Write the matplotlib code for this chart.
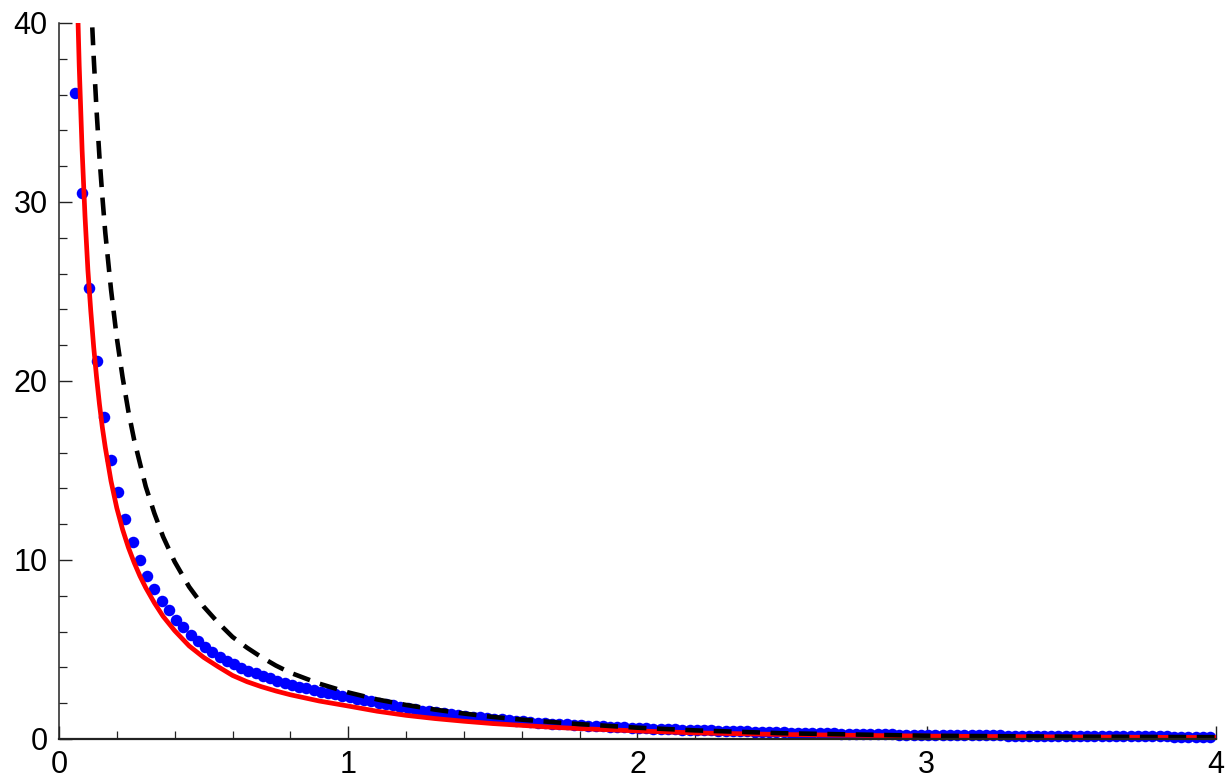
import numpy as np
import matplotlib
matplotlib.use('Agg')
import matplotlib.pyplot as plt
from matplotlib.ticker import MultipleLocator

plt.rcParams['font.family'] = ['Liberation Sans', 'DejaVu Sans']
plt.rcParams['xtick.labelsize'] = 22
plt.rcParams['ytick.labelsize'] = 22

# Red solid curve
red_x = [0.06, 0.066, 0.07, 0.08, 0.09, 0.10, 0.11, 0.12, 0.13, 0.14, 0.15, 0.16,
         0.18, 0.20, 0.22, 0.24, 0.26, 0.28, 0.30, 0.33, 0.36, 0.40, 0.45, 0.50,
         0.55, 0.60, 0.65, 0.70, 0.75, 0.80, 0.90, 1.00, 1.10, 1.20, 1.30, 1.40,
         1.50, 1.60, 1.70, 1.80, 2.00, 2.20, 2.50, 3.00, 3.50, 4.00]
red_y = [44.0, 40.0, 37.6, 32.9, 29.2, 26.2, 23.9, 21.9, 20.2, 18.7, 17.4, 16.3,
         14.4, 12.9, 11.7, 10.7, 9.85, 9.1, 8.45, 7.6, 6.85, 6.05, 5.2, 4.56,
         4.04, 3.55, 3.2, 2.92, 2.68, 2.47, 2.12, 1.84, 1.55, 1.32, 1.14, 0.99,
         0.86, 0.76, 0.66, 0.58, 0.45, 0.34, 0.25, 0.16, 0.11, 0.08]

# Black dashed curve
blk_x = [0.105, 0.113, 0.12, 0.13, 0.14, 0.15, 0.16, 0.18, 0.20, 0.22, 0.24, 0.26,
         0.28, 0.30, 0.33, 0.36, 0.40, 0.45, 0.50, 0.55, 0.60, 0.65, 0.70, 0.75,
         0.80, 0.90, 1.00, 1.10, 1.20, 1.30, 1.40, 1.50, 1.60, 1.70, 1.80, 2.00,
         2.20, 2.50, 3.00, 3.50, 4.00]
blk_y = [43.6, 40.5, 38.1, 35.1, 32.5, 30.3, 28.3, 25.1, 22.4, 20.2, 18.3, 16.7,
         15.4, 14.1, 12.6, 11.3, 9.9, 8.5, 7.4, 6.5, 5.7, 5.1, 4.57, 4.1,
         3.7, 3.09, 2.6, 2.21, 1.9, 1.64, 1.42, 1.23, 1.08, 0.95, 0.83, 0.63,
         0.48, 0.32, 0.18, 0.13, 0.10]

# Blue dots, sampled every 0.025 starting at x = 0.055
dot_x0, dot_dx = 0.055, 0.025
dot_y = [36.1, 30.5, 25.2, 21.1, 18.0, 15.6, 13.8, 12.3, 11.0, 10.0,
         9.1, 8.36, 7.72, 7.18, 6.65, 6.24, 5.81, 5.49, 5.16, 4.86,
         4.58, 4.36, 4.17, 3.98, 3.82, 3.66, 3.52, 3.38, 3.26, 3.14,
         3.03, 2.93, 2.83, 2.74, 2.65, 2.57, 2.49, 2.42, 2.34, 2.26,
         2.18, 2.10, 2.03, 1.95, 1.87, 1.80, 1.73, 1.66, 1.59, 1.54,
         1.49, 1.44, 1.39, 1.34, 1.30, 1.25, 1.21, 1.17, 1.13, 1.09,
         1.05, 1.02, 0.98, 0.95, 0.92, 0.89, 0.86, 0.84, 0.81, 0.79,
         0.77, 0.75, 0.73, 0.71, 0.69, 0.67, 0.65, 0.63, 0.61, 0.60,
         0.58, 0.56, 0.55, 0.53, 0.52, 0.51, 0.50, 0.49, 0.475, 0.46,
         0.45, 0.44, 0.43, 0.42, 0.41, 0.40, 0.39, 0.38, 0.37, 0.36,
         0.35, 0.34, 0.335, 0.33, 0.32, 0.31, 0.30, 0.295, 0.29, 0.28,
         0.27, 0.265, 0.26, 0.25, 0.245, 0.24, 0.23, 0.225, 0.22, 0.217,
         0.215, 0.212, 0.21, 0.207, 0.205, 0.202, 0.20, 0.197, 0.195, 0.192,
         0.19, 0.187, 0.185, 0.182, 0.18, 0.177, 0.175, 0.172, 0.17, 0.167,
         0.165, 0.162, 0.16, 0.157, 0.155, 0.152, 0.15, 0.148, 0.146, 0.144,
         0.142, 0.14, 0.138, 0.136, 0.134, 0.133, 0.132, 0.13]
dot_x = dot_x0 + dot_dx * np.arange(len(dot_y))

fig = plt.figure(figsize=(12.26, 7.80), dpi=100)
ax = fig.add_axes([0.0481, 0.0526, 0.9437, 0.918])

ax.plot(dot_x, dot_y, 'o', color='#0000ff', ms=8.3, mec='none', clip_on=False, zorder=2)
ax.plot(red_x, red_y, '-', color='#ff0000', lw=3.4, zorder=3)
ax.plot(blk_x, blk_y, color='black', lw=3.3, dashes=(3.9, 2.3),
        dash_capstyle='butt', zorder=4)

ax.set_xlim(0, 4)
ax.set_ylim(0, 40)

for s in ['top', 'right']:
    ax.spines[s].set_visible(False)
for s in ['left', 'bottom']:
    ax.spines[s].set_color('#222222')
    ax.spines[s].set_zorder(5)
ax.spines['left'].set_linewidth(1.1)
ax.spines['bottom'].set_linewidth(1.6)

ax.xaxis.set_major_locator(MultipleLocator(1))
ax.xaxis.set_minor_locator(MultipleLocator(0.2))
ax.yaxis.set_major_locator(MultipleLocator(10))
ax.yaxis.set_minor_locator(MultipleLocator(2))
ax.tick_params(which='major', direction='in', length=9.5, width=1.0,
               color='#222222', pad=8)
ax.tick_params(which='minor', direction='in', length=6, width=0.9, color='#222222')

fig.savefig('out.png', dpi=100)
